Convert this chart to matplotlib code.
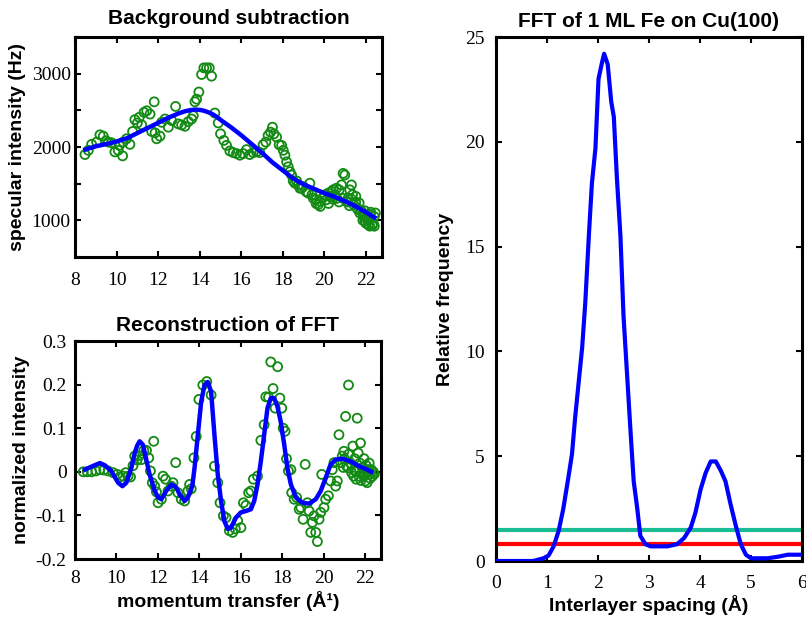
import matplotlib
matplotlib.use("Agg")
import matplotlib.pyplot as plt
import numpy as np

# ---------------- data: background subtraction ----------------
bg_x = [8.48, 8.64, 8.80, 9.04, 9.20, 9.36, 9.49, 9.60, 9.76, 9.92, 10.08, 10.29, 10.13, 10.32,
        10.48, 10.64, 10.77, 10.88, 11.00, 11.09, 11.21, 11.32, 11.45, 11.61, 11.81, 11.69, 11.85,
        11.93, 12.09, 12.17, 12.33, 12.49, 12.65, 12.84, 12.97, 13.13, 13.29, 13.45, 13.61, 13.69,
        13.77, 13.85, 13.96, 14.09, 14.20, 14.33, 14.46, 14.57, 14.73, 14.89, 15.00, 15.16, 15.29,
        15.45, 15.61, 15.77, 15.93, 16.09, 16.25, 16.41, 16.57, 16.73, 16.89, 17.05, 17.18, 17.29,
        17.41, 17.50, 17.57, 17.70, 17.82, 17.94, 18.02, 18.10, 18.18, 18.26, 18.34, 18.42, 18.50,
        18.58, 18.66, 18.74, 18.82, 18.90, 18.98, 19.11, 19.22, 19.30, 19.46, 19.59, 19.70, 19.78,
        19.91, 20.02, 20.10, 20.18, 20.26, 20.34, 20.42, 20.50, 20.58, 20.71, 20.82, 20.90, 20.98,
        21.06, 21.14, 21.22, 21.30, 21.35, 21.41, 21.51, 21.57, 21.67, 21.78, 21.86, 21.94, 22.02,
        22.10, 22.18, 22.23, 19.40, 19.60, 19.80, 20.20, 20.40, 20.60, 20.70, 20.90, 21.10, 21.20,
        21.30, 21.50, 21.60, 21.70, 21.90, 22.00, 22.10, 22.20, 22.30, 22.35, 22.40, 22.45, 22.40,
        21.85, 21.95]
bg_y = [1897, 1955, 2036, 2067, 2166, 2148, 2085, 2067, 2058, 1933, 1955, 1879, 2022, 2067,
        2112, 2036, 2211, 2373, 2328, 2404, 2301, 2472, 2494, 2449, 2616, 2211, 2193,
        2112, 2148, 2337, 2382, 2270, 2360, 2553, 2315, 2301, 2283, 2346, 2382, 2427,
        2616, 2652, 2750, 2989, 3079, 3079, 3079, 2966, 2463, 2328, 2180, 2090, 2022,
        1946, 1924, 1910, 1888, 1910, 1964, 1897, 1924, 1933, 1924, 2031, 2067, 2157,
        2202, 2270, 2180, 2135, 2031, 2022, 1955, 1888, 1798, 1730, 1663, 1618, 1537,
        1506, 1537, 1483, 1438, 1438, 1461, 1393, 1371, 1506, 1303, 1281, 1214, 1259,
        1303, 1348, 1281, 1371, 1326, 1393, 1416, 1348, 1438, 1416, 1483, 1640, 1618,
        1259, 1303, 1416, 1483, 1348, 1214, 1326, 1169, 1236, 1124, 1079, 989, 1034,
        944, 921, 1110, 1350, 1230, 1190, 1230, 1290, 1300, 1250, 1300, 1250, 1200,
        1290, 1250, 1150, 1100, 1050, 960, 1000, 1080, 930, 960, 920, 1100, 1050,
        1000, 1130]

bgfit_x = [8.5, 9.0, 9.5, 10.0, 10.5, 11.0, 11.5, 12.0, 12.5, 13.0, 13.3, 13.6, 13.8, 14.0, 14.2,
           14.4, 14.6, 14.8, 15.0, 15.5, 16.0, 16.5, 17.0, 17.5, 18.0, 18.5, 19.0, 19.5, 20.0,
           20.5, 21.0, 21.5, 22.0, 22.4]
bgfit_y = [1965, 2010, 2040, 2075, 2120, 2190, 2260, 2330, 2400, 2460, 2488, 2505, 2510, 2506, 2495,
           2475, 2450, 2415, 2370, 2270, 2160, 2040, 1920, 1790, 1680, 1570, 1490, 1430, 1370,
           1320, 1260, 1190, 1110, 1040]

# ---------------- data: reconstruction ----------------
rc_x = [8.40, 8.59, 8.80, 9.01, 9.20, 9.39, 9.60, 9.84, 10.04, 10.16, 10.32, 10.45, 10.56, 10.68,
        10.80, 10.88, 11.00, 11.09, 11.21, 11.32, 11.45, 11.56, 11.64, 11.80, 11.73, 11.85, 11.93,
        12.01, 12.17, 12.25, 12.37, 12.49, 12.65, 12.73, 12.86, 12.97, 13.13, 13.29, 13.45, 13.53,
        13.61, 13.74, 13.85, 13.98, 14.17, 14.36, 14.57, 14.73, 14.89, 15.00, 15.16, 15.29, 15.45,
        15.61, 15.74, 15.85, 16.01, 16.13, 16.25, 16.38, 16.49, 16.61, 16.81, 16.97, 17.13, 17.21,
        17.34, 17.45, 17.56, 17.66, 17.78, 17.89, 17.98, 18.05, 18.14, 18.21, 18.30, 18.42, 18.46,
        18.58, 18.70, 18.82, 18.90, 19.01, 19.11, 19.22, 19.30, 19.38, 19.46, 19.54, 19.62, 19.70,
        19.78, 19.86, 19.91, 20.02, 20.10, 20.23, 20.34, 20.42, 20.50, 20.58, 20.66, 20.74, 20.82,
        20.90, 20.98, 21.06, 21.11, 21.19, 21.20, 21.35, 21.41, 21.51, 21.57, 21.62, 21.67, 21.78,
        21.86, 21.94, 22.02, 22.10, 22.18, 22.23, 21.60, 21.70, 21.75, 21.80, 21.90, 21.95, 22.00,
        22.05, 22.10, 22.15, 22.20, 22.25, 22.30, 22.35, 22.40, 22.45, 21.50, 21.45, 21.30, 21.20,
        21.00, 20.95]
rc_y = [0.000, 0.000, 0.000, 0.002, 0.005, 0.004, 0.002, -0.002, -0.006, -0.012, -0.010, -0.002,
        -0.010, -0.012, 0.014, 0.036, 0.027, 0.037, 0.028, 0.049, 0.049, 0.032, 0.002, 0.070,
        -0.025, -0.033, -0.046, -0.071, -0.063, -0.010, -0.017, -0.044, -0.033, -0.025, 0.021,
        -0.048, -0.063, -0.067, -0.044, -0.029, -0.039, 0.032, 0.081, 0.166, 0.199, 0.207, 0.176,
        0.013, -0.025, -0.071, -0.101, -0.105, -0.135, -0.139, -0.131, -0.112, -0.128, -0.071,
        -0.077, -0.048, -0.044, -0.017, -0.010, 0.072, 0.108, 0.172, 0.171, 0.252, 0.191, 0.146,
        0.241, 0.169, 0.146, 0.100, 0.093, 0.030, 0.002, 0.005, -0.048, -0.063, -0.059, -0.086,
        -0.082, -0.109, 0.017, -0.071, -0.090, -0.139, -0.116, -0.101, -0.139, -0.160, -0.109,
        -0.093, -0.006, -0.082, -0.063, -0.055, -0.021, 0.005, 0.021, -0.033, -0.021, 0.085,
        0.021, 0.036, 0.047, 0.127, 0.013, 0.009, 0.199, -0.002, 0.059, 0.002, -0.017, 0.123,
        0.043, 0.066, 0.009, -0.010, -0.021, -0.002, 0.005, -0.006, 0.000, -0.010, 0.020, -0.020,
        0.010, 0.030, -0.005, 0.015, -0.025, 0.000, 0.020, -0.015, 0.005, -0.010, 0.000, -0.005,
        0.030, -0.010, 0.020, 0.040, 0.030, 0.010]

rcfit_x = [8.48, 8.8, 9.2, 9.44, 9.76, 10.08, 10.29, 10.48, 10.72, 10.88, 11.0, 11.12, 11.28,
           11.44, 11.6, 11.85, 12.0, 12.17, 12.4, 12.65, 12.89, 13.05, 13.29, 13.45, 13.66, 13.77,
           13.93, 14.09, 14.25, 14.41, 14.57, 14.73, 14.89, 15.05, 15.21, 15.37, 15.53, 15.77,
           16.01, 16.25, 16.49, 16.65, 16.81, 16.97, 17.13, 17.29, 17.45, 17.61, 17.77, 17.93,
           18.1, 18.25, 18.42, 18.66, 18.98, 19.3, 19.62, 19.86, 20.1, 20.34, 20.58, 20.9, 21.3,
           21.7, 22.1, 22.3]
rcfit_y = [0.005, 0.012, 0.020, 0.015, 0.001, -0.025, -0.033, -0.025, 0.009, 0.043, 0.060, 0.070,
           0.062, 0.028, -0.006, -0.044, -0.058, -0.063, -0.044, -0.029, -0.036, -0.052, -0.067,
           -0.059, -0.033, 0.009, 0.085, 0.161, 0.199, 0.206, 0.184, 0.085, -0.006, -0.067,
           -0.113, -0.131, -0.128, -0.105, -0.093, -0.090, -0.086, -0.067, -0.029, 0.024, 0.085,
           0.146, 0.169, 0.169, 0.150, 0.115, 0.062, 0.009, -0.029, -0.059, -0.071, -0.073,
           -0.063, -0.044, -0.014, 0.017, 0.028, 0.030, 0.024, 0.013, 0.005, 0.000]

# ---------------- data: FFT ----------------
fft_x = [0.0, 0.73, 0.93, 1.03, 1.13, 1.23, 1.32, 1.42, 1.49, 1.55, 1.62, 1.69, 1.75, 1.82, 1.88,
         1.95, 2.01, 2.08, 2.12, 2.19, 2.26, 2.31, 2.37, 2.44, 2.50, 2.57, 2.64, 2.70, 2.77, 2.83,
         2.93, 3.03, 3.36, 3.55, 3.69, 3.82, 3.91, 4.01, 4.11, 4.21, 4.31, 4.41, 4.50, 4.60, 4.70,
         4.80, 4.90, 5.00, 5.32, 5.52, 5.72, 6.0]
fft_y = [0.0, 0.0, 0.13, 0.26, 0.7, 1.45, 2.5, 4.0, 5.1, 6.8, 8.5, 10.2, 12.3, 15.5, 18.0,
         19.7, 23.0, 23.8, 24.2, 23.7, 21.9, 21.2, 18.3, 15.5, 11.7, 8.9, 6.1, 3.8, 2.5, 1.2,
         0.8, 0.7, 0.7, 0.8, 1.1, 1.6, 2.3, 3.4, 4.2, 4.75, 4.75, 4.3, 3.8, 2.7, 1.7,
         0.8, 0.3, 0.13, 0.13, 0.2, 0.3, 0.3]
threshold_teal = 1.5
threshold_red = 0.83

# ---------------- styling ----------------
W, H = 806, 618
fig = plt.figure(figsize=(W / 100, H / 100), dpi=100)

TICK_FAMILY = "Liberation Serif"
TICK_SIZE = 14
lab_font = dict(family="Liberation Sans", weight="bold", size=14)
title_font = dict(fontfamily="Liberation Sans", fontweight="bold", fontsize=15)

green = "#138a13"
blue = "#0000ff"


def style(ax, xpad=9, ypad=5):
    for s in ax.spines.values():
        s.set_linewidth(2.2)
    ax.tick_params(axis="x", direction="in", top=True, length=4, width=1.5, pad=xpad)
    ax.tick_params(axis="y", direction="in", right=True, length=4, width=1.5, pad=ypad)
    for lbl in ax.get_xticklabels() + ax.get_yticklabels():
        lbl.set_fontfamily(TICK_FAMILY)
        lbl.set_fontsize(TICK_SIZE)


# top-left
ax1 = fig.add_axes([75 / W, 1 - 257 / H, 307 / W, 220 / H])
ax1.scatter(bg_x, bg_y, s=42, facecolors="none", edgecolors=green, linewidths=1.3, zorder=2)
ax1.plot(bgfit_x, bgfit_y, color=blue, lw=3.2, zorder=3)
ax1.set_xlim(8, 22.77)
ax1.set_ylim(500, 3500)
ax1.set_xticks([8, 10, 12, 14, 16, 18, 20, 22])
ax1.set_yticks([1000, 2000, 3000])
ax1.set_yticks([500, 1500, 2500, 3500], minor=True)
ax1.tick_params(which="minor", direction="in", left=True, right=True, length=4, width=1.5)
ax1.set_title("Background subtraction", **title_font, pad=9)
ax1.set_ylabel("specular intensity (Hz)", **lab_font, labelpad=4)
style(ax1, xpad=11, ypad=3)

# bottom-left
ax2 = fig.add_axes([75 / W, 1 - 559 / H, 306 / W, 218 / H])
ax2.scatter(rc_x, rc_y, s=42, facecolors="none", edgecolors=green, linewidths=1.3, zorder=2)
ax2.plot(rcfit_x, rcfit_y, color=blue, lw=3.2, zorder=3)
ax2.set_xlim(8, 22.77)
ax2.set_ylim(-0.2, 0.3)
ax2.set_xticks([8, 10, 12, 14, 16, 18, 20, 22])
ax2.set_yticks([-0.2, -0.1, 0, 0.1, 0.2, 0.3])
ax2.set_yticklabels(["-0.2", "-0.1", "0", "0.1", "0.2", "0.3"])
ax2.set_title("Reconstruction of FFT", **title_font, pad=7)
ax2.set_ylabel("normalized intensity", **lab_font, labelpad=4)
ax2.set_xlabel("momentum transfer (Å\u00b9)", **lab_font, labelpad=3)
style(ax2, xpad=8, ypad=6)

# right
ax3 = fig.add_axes([496 / W, 1 - 561 / H, 306 / W, 524 / H])
ax3.plot(fft_x, fft_y, color=blue, lw=3.0, zorder=3)
ax3.axhline(threshold_teal, color="#1abc96", lw=3.0, zorder=2)
ax3.axhline(threshold_red, color="#ff0000", lw=3.0, zorder=2)
ax3.set_xlim(0, 6)
ax3.set_ylim(0, 25)
ax3.set_xticks([0, 1, 2, 3, 4, 5, 6])
ax3.set_yticks([0, 5, 10, 15, 20, 25])
ax3.set_title("FFT of 1 ML Fe on Cu(100)", **title_font, pad=7)
ax3.set_ylabel("Relative frequency", **lab_font, labelpad=8)
ax3.set_xlabel("Interlayer spacing (Å)", **lab_font, labelpad=2)
style(ax3, xpad=10, ypad=8)

fig.savefig("out.png", dpi=100)
